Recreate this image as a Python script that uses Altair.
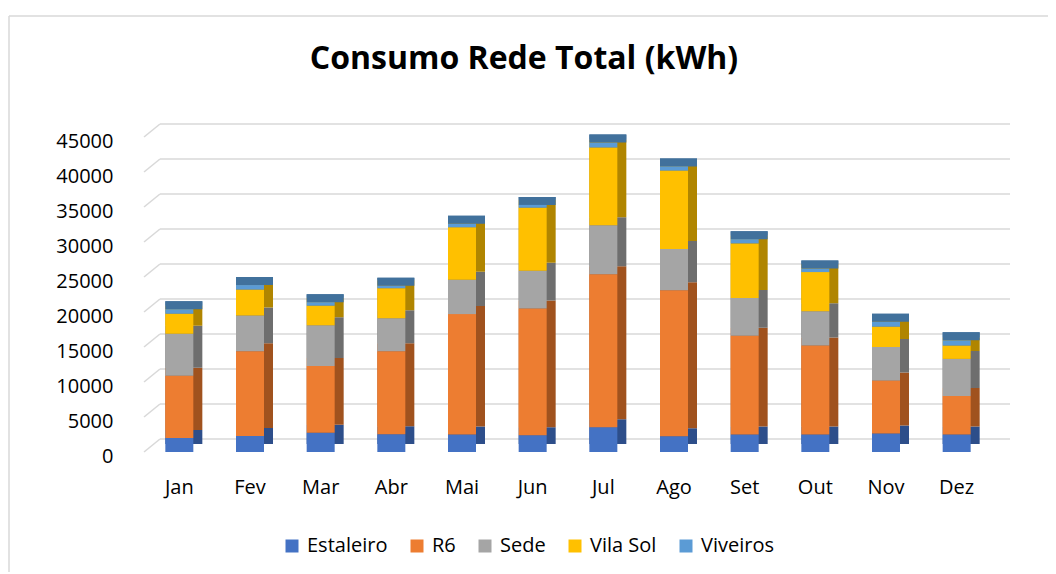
import altair as alt
import pandas as pd

months = ["Jan", "Fev", "Mar", "Abr", "Mai", "Jun", "Jul", "Ago", "Set", "Out", "Nov", "Dez"]
series = ["Estaleiro", "R6", "Sede", "Vila Sol", "Viveiros"]
estaleiro = [2000, 2300, 2750, 2550, 2500, 2400, 3550, 2250, 2500, 2500, 2650, 2500]
r6 = [8900, 12100, 9550, 11850, 17200, 18100, 21850, 20850, 14100, 12700, 7550, 5500]
sede = [6000, 5100, 5800, 4700, 4900, 5400, 7000, 5900, 5400, 4900, 4800, 5300]
vila_sol = [2850, 3700, 2800, 4300, 7500, 9000, 11100, 11200, 7800, 5600, 2900, 1900]
viveiros = [650, 650, 500, 350, 500, 400, 700, 600, 600, 500, 700, 750]
colors = ["#4472C4", "#ED7D31", "#A5A5A5", "#FFC000", "#5B9BD5"]
side_colors = ["#2D4E8A", "#A0521E", "#6E6E6E", "#B08500", "#41719C"]
y_ticks = [0, 5000, 10000, 15000, 20000, 25000, 30000, 35000, 40000, 45000]
title_text = "Consumo Rede Total (kWh)"

values = [estaleiro, r6, sede, vila_sol, viveiros]
rows = []
for si, (name, vals) in enumerate(zip(series, values)):
    for m, v in zip(months, vals):
        rows.append({"Mês": m, "Série": name, "Valor": v, "ordem": si,
                     "escuro": side_colors[si]})
df = pd.DataFrame(rows)
grid_df = pd.DataFrame({"tick": y_ticks})
one_df = pd.DataFrame({"titulo": [title_text]})

FONT = "Open Sans"
Y_SCALE = alt.Scale(domain=[0, 45000], nice=False)
Y_AXIS = alt.Axis(title=None, values=y_ticks, format="d", labelFontSize=20,
                  labelFont=FONT, labelColor="#000000", labelPadding=31, labelOffset=4,
                  ticks=False, domain=False, grid=False)
X_ENC = alt.X("Mês:N", sort=months,
              scale=alt.Scale(paddingInner=0.58, paddingOuter=0.29),
              axis=alt.Axis(title=None, labelAngle=0, labelFontSize=20, labelFont=FONT,
                            labelColor="#000000", labelPadding=25, ticks=False, domain=False,
                            grid=False))

border_v = alt.Chart(one_df).mark_rule(color="#d9d9d9", strokeWidth=1.5).encode(
    x=alt.value(-135), y=alt.value(-121), y2=alt.value(445))
border_h = alt.Chart(one_df).mark_rule(color="#d9d9d9", strokeWidth=1.5).encode(
    x=alt.value(-135), x2=alt.value(920), y=alt.value(-121))

title = alt.Chart(one_df).mark_text(font=FONT, fontSize=32, fontWeight="bold", color="#000000",
                                    align="center", baseline="alphabetic").encode(
    text="titulo:N", x=alt.value(380), y=alt.value(-68))

grid = alt.Chart(grid_df).mark_rule(color="#d9d9d9", strokeWidth=1.6, yOffset=-13).encode(
    y=alt.Y("tick:Q", scale=Y_SCALE, axis=Y_AXIS),
    x=alt.value(16), x2=alt.value(866),
)
diag = alt.Chart(grid_df).mark_rule(color="#d9d9d9", strokeWidth=1.6, yOffset=0, y2Offset=-13).encode(
    y=alt.Y("tick:Q", scale=Y_SCALE, axis=Y_AXIS),
    y2=alt.Y2("tick:Q"),
    x=alt.value(0), x2=alt.value(16),
)

back = alt.Chart(df).mark_bar(width=37, xOffset=4.5, yOffset=-8, y2Offset=-8).encode(
    x=X_ENC,
    y=alt.Y("Valor:Q", stack="zero", scale=Y_SCALE, axis=Y_AXIS),
    color=alt.Color("escuro:N", scale=None),
    order=alt.Order("ordem:Q", sort="ascending"),
)

cap = alt.Chart(df).mark_tick(thickness=8, size=37, xOffset=4.5, yOffset=-4,
                              color="#41719C", opacity=1).encode(
    x=X_ENC,
    y=alt.Y("sum(Valor):Q", scale=Y_SCALE, axis=Y_AXIS),
)

front = alt.Chart(df).mark_bar(width=28).encode(
    x=X_ENC,
    y=alt.Y("Valor:Q", stack="zero", scale=Y_SCALE, axis=Y_AXIS),
    color=alt.Color("Série:N", sort=series,
                    scale=alt.Scale(domain=series, range=colors),
                    legend=alt.Legend(title=None, orient="none", direction="horizontal",
                                      legendX=138, legendY=399, symbolType="square",
                                      symbolSize=169, symbolStrokeWidth=0, labelFontSize=20,
                                      labelFont=FONT, labelColor="#000000", labelOffset=5,
                                      columnPadding=19, padding=0)),
    order=alt.Order("ordem:Q", sort="ascending"),
)

chart = alt.layer(border_v, border_h, title, grid, diag, back, cap, front).properties(
    width=848,
    height=315,
    autosize=alt.AutoSizeParams(type="none"),
    padding={"left": 136, "top": 129, "right": 56, "bottom": 120},
).configure(background="#ffffff").configure_view(strokeWidth=0)

chart.save("out.html", embed_options={"renderer": "svg", "actions": False})
